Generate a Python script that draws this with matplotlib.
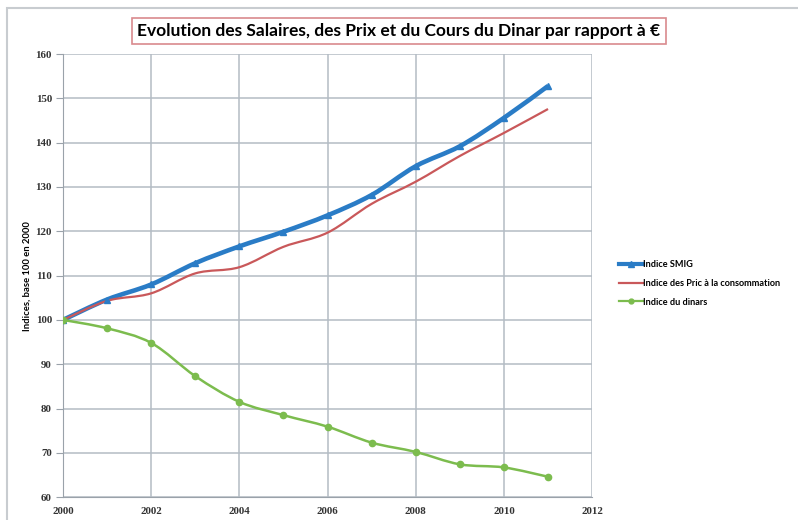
import matplotlib.pyplot as plt
from matplotlib.path import Path
from matplotlib.patches import PathPatch, Rectangle
from matplotlib.lines import Line2D

years = [2000, 2001, 2002, 2003, 2004, 2005, 2006, 2007, 2008, 2009, 2010, 2011]
smig = [100, 104.6, 108.0, 112.8, 116.6, 119.9, 123.6, 128.2, 134.7, 139.2, 145.6, 152.8]
prix = [100, 104.3, 106.0, 110.5, 111.9, 116.5, 119.7, 126.2, 131.2, 137.0, 142.2, 147.6]
dinar = [100, 98.1, 94.8, 87.3, 81.5, 78.5, 75.9, 72.3, 70.2, 67.4, 66.7, 64.6]

labels = ['Indice SMIG', 'Indice des Pric à la consommation', 'Indice du dinars']
colors = ['#2a7cc6', '#c9585a', '#7cbc4e']

plt.rcParams['font.family'] = ['Lato', 'DejaVu Sans']


def smooth_path(x, y):
    # Excel-style smoothed line: Bezier segments with Catmull-Rom control points
    verts = [(x[0], y[0])]
    codes = [Path.MOVETO]
    n = len(x)
    for i in range(n - 1):
        x0, y0 = (x[i - 1], y[i - 1]) if i > 0 else (x[i], y[i])
        x3, y3 = (x[i + 2], y[i + 2]) if i + 2 < n else (x[i + 1], y[i + 1])
        c1 = (x[i] + (x[i + 1] - x0) / 6, y[i] + (y[i + 1] - y0) / 6)
        c2 = (x[i + 1] - (x3 - x[i]) / 6, y[i + 1] - (y3 - y[i]) / 6)
        verts += [c1, c2, (x[i + 1], y[i + 1])]
        codes += [Path.CURVE4] * 3
    return Path(verts, codes)


fig = plt.figure(figsize=(7.98, 5.2), dpi=100)
ax = fig.add_axes([0.079, 0.044, 0.663, 0.852])

ax.add_patch(PathPatch(smooth_path(years, smig), fill=False, edgecolor=colors[0], lw=3.3, zorder=3))
ax.plot(years, smig, ls='none', marker='^', ms=4.5, color=colors[0], zorder=4)
ax.add_patch(PathPatch(smooth_path(years, prix), fill=False, edgecolor=colors[1], lw=1.6, zorder=3))
ax.add_patch(PathPatch(smooth_path(years, dinar), fill=False, edgecolor=colors[2], lw=1.8, zorder=3))
ax.plot(years, dinar, ls='none', marker='o', ms=4.5, color=colors[2], zorder=4)

ax.set_xlim(2000, 2012)
ax.set_ylim(60, 160)
ax.set_xticks(range(2000, 2013, 2))
ax.set_yticks(range(60, 161, 10))
ax.grid(True, color='#b4bcc4', lw=1.1)
ax.set_axisbelow(True)
for s in ax.spines.values():
    s.set_visible(False)
ax.spines['left'].set_visible(True)
ax.spines['bottom'].set_visible(True)
ax.spines['left'].set_color('#9aa2aa')
ax.spines['bottom'].set_color('#9aa2aa')
ax.tick_params(axis='y', length=5, color='#9aa2aa', pad=3)
ax.tick_params(axis='x', length=0, pad=7)
for lab in ax.get_xticklabels() + ax.get_yticklabels():
    lab.set_fontfamily('Liberation Serif')
    lab.set_fontweight('bold')
    lab.set_fontsize(7.8)
    lab.set_color('#333333')

ax.set_ylabel('Indices, base 100 en 2000', fontsize=6.8, fontweight='bold', labelpad=3)

handles = [
    Line2D([], [], color=colors[0], lw=3.0, marker='^', ms=4),
    Line2D([], [], color=colors[1], lw=1.6),
    Line2D([], [], color=colors[2], lw=1.6, marker='o', ms=3.5),
]
fig.legend(handles, labels, loc='center left', bbox_to_anchor=(0.765, 0.455),
           frameon=False, prop={'weight': 'bold', 'size': 6.6},
           handlelength=2.6, handletextpad=0.0, labelspacing=1.05)

fig.text(0.5, 0.94, 'Evolution des Salaires, des Prix et du Cours du Dinar par rapport à €',
         ha='center', va='center', fontsize=12.5, fontweight='bold',
         bbox=dict(boxstyle='square,pad=0.3', fc='white', ec='#d98a8e', lw=1.2))

fig.patches.append(Rectangle((0.009, -0.05), 1.1, 1.035, transform=fig.transFigure,
                             fill=False, ec='#c8ccd0', lw=1.5))

fig.savefig('out.png', dpi=100)
